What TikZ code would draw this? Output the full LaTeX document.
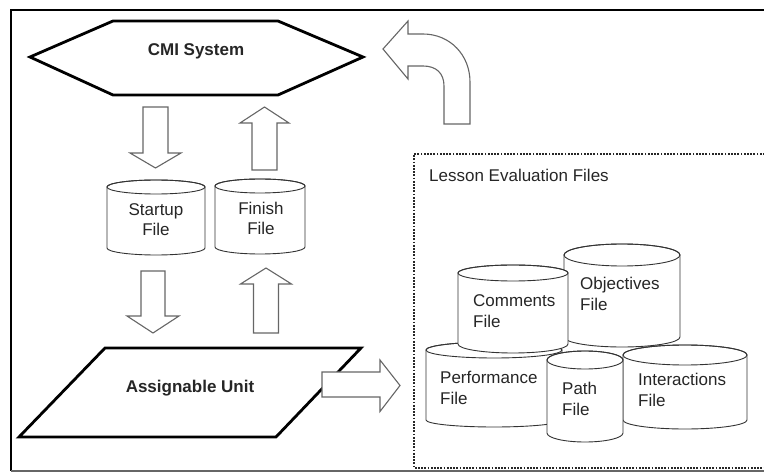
\documentclass[tikz,border=0pt]{standalone}
\usepackage{fontspec}
\setmainfont{Liberation Sans}
\begin{document}
\begin{tikzpicture}[x=1pt,y=-1pt,
  thickshape/.style={draw=black, line width=2.8pt, line join=miter, fill=white},
  blockarrow/.style={draw=black!60, line width=1.1pt, fill=white, line join=miter},
  cylline/.style={draw=black!80, line width=0.9pt},
  lbl/.style={inner sep=0pt, text=black!85, font=\fontsize{17}{21}\selectfont, align=left},
  clbl/.style={inner sep=0pt, text=black!85, font=\fontsize{17}{20}\selectfont, align=center},
  boldlbl/.style={inner sep=0pt, text=black!85, font=\fontsize{17}{20}\selectfont\bfseries}]
\useasboundingbox (0,0) rectangle (764,473);
\clip (0,0) rectangle (764,473);
% cylinder macro: #1 x-left, #2 x-right, #3 top cy, #4 bottom cy, #5 ry top, #6 ry bottom
\newcommand\mycyl[6]{%
  \pgfmathsetmacro\rxx{(#2-#1)/2}%
  \pgfmathsetmacro\cxx{(#1+#2)/2}%
  \filldraw[cylline, fill=white] (#1,#3) -- (#1,#4)
    arc[start angle=180, end angle=0, x radius=\rxx, y radius=#6]
    -- (#2,#3)
    arc[start angle=0, end angle=-180, x radius=\rxx, y radius=#5] -- cycle;
  \draw[cylline] (\cxx,#3) ellipse[x radius=\rxx, y radius=#5];
}
% outer frame
\draw[black, line width=2pt] (800,10) -- (11,10) -- (11,471);
\draw[black!60, line width=1.5pt] (11,471) -- (800,471);
% dotted box
\draw[black!85, line width=2pt, dash pattern=on 1.8pt off 1.4pt] (800,154) -- (414,154) -- (414,468) -- (800,468);
\node[lbl, anchor=west] (lef) at (429,175) {Lesson Evaluation Files};

% CMI hexagon
\draw[thickshape] (30,57) -- (113,21) -- (278,21) -- (363,57) -- (278,95) -- (113,95) -- cycle;
\node[boldlbl] (cmi) at (196,51) {CMI System};

% curved arrow
\draw[blockarrow] (383,49) -- (408,21) -- (408,34) -- (423,34)
  .. controls (450,34) and (470,55) .. (470,82) -- (470,124) -- (444,124) -- (444,86)
  .. controls (444,73) and (436,66) .. (423,66) -- (408,66) -- (408,79) -- cycle;

% arrows between CMI and files
\draw[blockarrow] (143,107) -- (168,107) -- (168,153) -- (181,153) -- (155.5,168) -- (130,153) -- (143,153) -- cycle;
\draw[blockarrow] (264.5,107) -- (289,123) -- (277,123) -- (277,170) -- (252,170) -- (252,123) -- (240,123) -- cycle;

% startup / finish cylinders
\mycyl{107}{205}{187}{248}{7}{7}
\node[clbl] (startup) at (156,220) {Startup\\File};
\mycyl{215}{305}{186}{247}{7}{7}
\node[clbl] (finish) at (261,218) {Finish\\File};

% arrows between files and AU
\draw[blockarrow] (141,271) -- (165,271) -- (165,316) -- (179,316) -- (153,333) -- (127,316) -- (141,316) -- cycle;
\draw[blockarrow] (266,268) -- (291.5,284) -- (278.5,284) -- (278.5,333) -- (253.5,333) -- (253.5,284) -- (240.5,284) -- cycle;

% Assignable unit
\draw[thickshape] (105,348) -- (361,348) -- (276,437) -- (19,437) -- cycle;
\node[boldlbl] (au) at (190,388) {Assignable Unit};

% right arrow
\draw[blockarrow] (322,372) -- (380,372) -- (380,360) -- (400,385.5) -- (380,411.5) -- (380,397) -- (322,397) -- cycle;

% lesson evaluation cylinders
\mycyl{426}{562}{350}{420}{8}{7}
\node[lbl, anchor=west] (perf) at (440,387.5) {Performance\\File};
\mycyl{564}{680}{255}{337}{11}{10}
\node[lbl, anchor=west] (obj) at (580,294) {Objectives\\File};
\mycyl{623}{747}{355}{420}{10}{9}
\node[lbl, anchor=west] (inter) at (638,390) {Interactions\\File};
\mycyl{458}{568}{273}{344}{8}{9}
\node[lbl, anchor=west] (comm) at (473,311) {Comments\\File};
\mycyl{547}{623}{360}{433}{9}{9}
\node[lbl, anchor=west] (path) at (562,399) {Path\\File};
\end{tikzpicture}
\end{document}
